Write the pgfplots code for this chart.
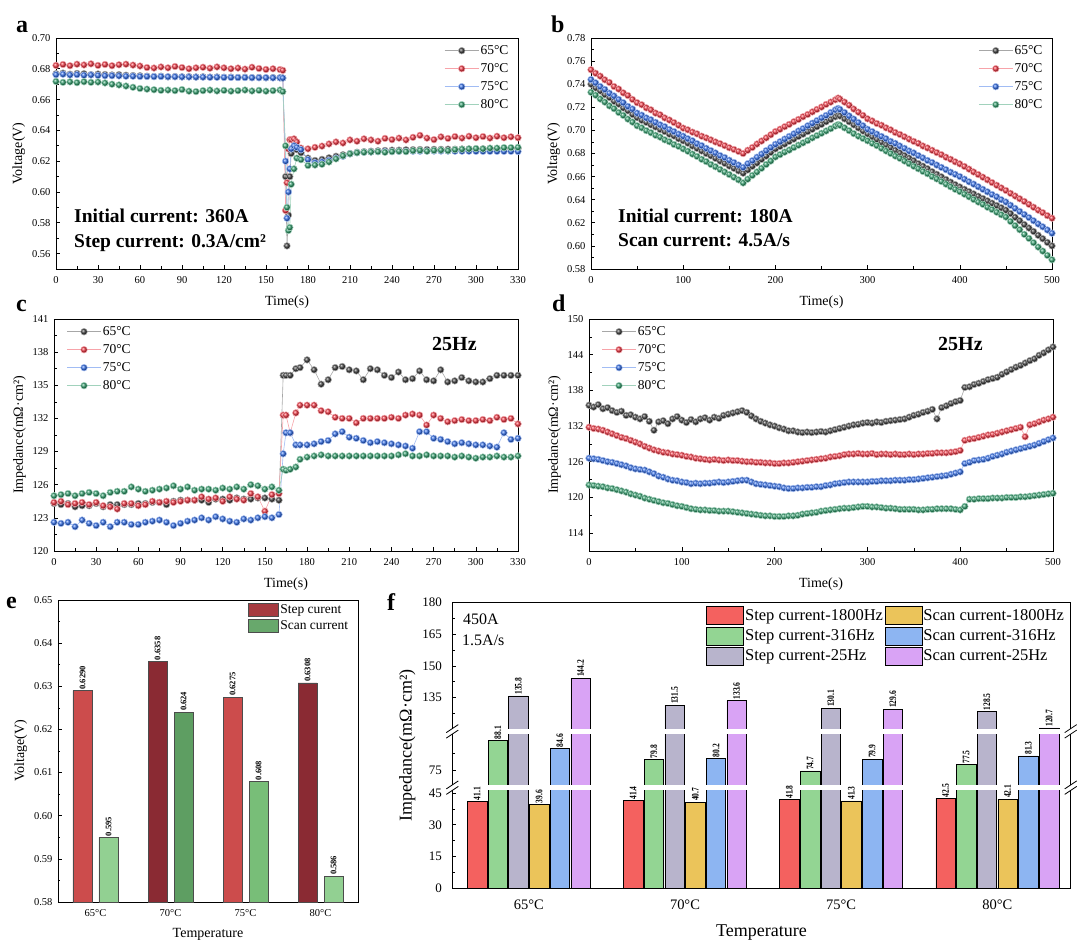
\documentclass[border=0pt]{standalone}
\usepackage{fontspec}
\setmainfont{Liberation Serif}
\usepackage{pgfplots}
\usepackage{pgfplotstable}
\pgfplotsset{compat=1.18}

\definecolor{cK}{HTML}{3C3C3C}
\definecolor{cR}{HTML}{EE3340}
\definecolor{cB}{HTML}{2F6BE6}
\definecolor{cG}{HTML}{2F9C6A}
\definecolor{stepL}{HTML}{CC4C4C}
\definecolor{stepD}{HTML}{8A2A33}
\definecolor{stepM}{HTML}{A63A40}
\definecolor{scanL}{HTML}{92D092}
\definecolor{scanD}{HTML}{5E9E62}
\definecolor{scanM}{HTML}{78BE78}
\definecolor{fR}{HTML}{F4615F}
\definecolor{fG}{HTML}{93D593}
\definecolor{fS}{HTML}{B8B4CC}
\definecolor{fY}{HTML}{EBC45A}
\definecolor{fB}{HTML}{8DB5F2}
\definecolor{fV}{HTML}{D9A3F5}

% panel a: t, 65, 70, 75, 80 degC
\pgfplotstableread{
t k r b g
0 0.6768 0.6822 0.6762 0.6718
5 0.6772 0.6828 0.6765 0.6712
10 0.6765 0.6820 0.6760 0.6715
15 0.6770 0.6830 0.6762 0.6710
20 0.6768 0.6825 0.6758 0.6716
25 0.6762 0.6832 0.6760 0.6712
30 0.6766 0.6822 0.6757 0.6714
35 0.6763 0.6828 0.6755 0.6708
40 0.6760 0.6820 0.6755 0.6700
45 0.6762 0.6826 0.6754 0.6695
50 0.6758 0.6830 0.6752 0.6688
55 0.6756 0.6824 0.6752 0.6680
60 0.6755 0.6818 0.6750 0.6672
65 0.6752 0.6808 0.6750 0.6668
70 0.6750 0.6805 0.6749 0.6664
75 0.6752 0.6812 0.6750 0.6660
80 0.6748 0.6806 0.6748 0.6662
85 0.6750 0.6815 0.6748 0.6658
90 0.6748 0.6808 0.6747 0.6665
95 0.6749 0.6800 0.6747 0.6655
100 0.6747 0.6806 0.6746 0.6652
105 0.6748 0.6810 0.6746 0.6658
110 0.6746 0.6804 0.6745 0.6662
115 0.6747 0.6812 0.6745 0.6656
120 0.6745 0.6806 0.6744 0.6660
125 0.6746 0.6800 0.6744 0.6655
130 0.6744 0.6805 0.6743 0.6658
135 0.6745 0.6798 0.6743 0.6662
140 0.6743 0.6810 0.6742 0.6656
145 0.6744 0.6802 0.6742 0.6660
150 0.6742 0.6796 0.6742 0.6655
155 0.6743 0.6800 0.6741 0.6658
160 0.6742 0.6795 0.6741 0.6662
162 0.6740 0.6790 0.6740 0.6652
164 0.6100 0.5880 0.6200 0.6300
165 0.5650 0.6060 0.5830 0.5900
166 0.5850 0.6280 0.6000 0.5750
167 0.6100 0.6340 0.6150 0.5770
168 0.6250 0.6340 0.6280 0.6050
170 0.6280 0.6345 0.6300 0.6150
172 0.6275 0.6325 0.6290 0.6220
175 0.6255 0.6285 0.6275 0.6210
180 0.6220 0.6280 0.6210 0.6172
185 0.6205 0.6290 0.6190 0.6175
190 0.6212 0.6298 0.6195 0.6180
195 0.6222 0.6312 0.6205 0.6195
200 0.6232 0.6325 0.6220 0.6215
205 0.6242 0.6318 0.6232 0.6235
210 0.6250 0.6338 0.6248 0.6248
215 0.6258 0.6330 0.6255 0.6255
220 0.6262 0.6345 0.6258 0.6258
225 0.6265 0.6338 0.6260 0.6260
230 0.6268 0.6330 0.6262 0.6262
235 0.6270 0.6348 0.6262 0.6258
240 0.6272 0.6340 0.6263 0.6262
245 0.6272 0.6350 0.6264 0.6265
250 0.6274 0.6338 0.6264 0.6262
255 0.6275 0.6355 0.6265 0.6268
260 0.6276 0.6368 0.6265 0.6270
265 0.6276 0.6350 0.6266 0.6265
270 0.6277 0.6340 0.6266 0.6270
275 0.6277 0.6358 0.6266 0.6272
280 0.6278 0.6348 0.6266 0.6268
285 0.6278 0.6360 0.6265 0.6275
290 0.6279 0.6350 0.6265 0.6278
295 0.6279 0.6362 0.6265 0.6280
300 0.6280 0.6352 0.6264 0.6282
305 0.6280 0.6360 0.6264 0.6280
310 0.6280 0.6350 0.6264 0.6285
315 0.6281 0.6362 0.6264 0.6285
320 0.6281 0.6352 0.6264 0.6288
325 0.6281 0.6358 0.6264 0.6288
330 0.6282 0.6352 0.6263 0.6290
}\tabA

% panel b
\pgfplotstableread{
t k r b g
0 0.7400 0.7525 0.7440 0.7330
5 0.7368 0.7495 0.7412 0.7305
10 0.7342 0.7470 0.7380 0.7272
15 0.7310 0.7438 0.7355 0.7245
20 0.7285 0.7415 0.7322 0.7212
25 0.7252 0.7380 0.7298 0.7188
30 0.7228 0.7358 0.7268 0.7155
35 0.7195 0.7325 0.7240 0.7130
40 0.7170 0.7302 0.7208 0.7098
45 0.7138 0.7268 0.7185 0.7072
50 0.7110 0.7240 0.7150 0.7040
55 0.7088 0.7222 0.7132 0.7022
60 0.7070 0.7195 0.7108 0.6998
65 0.7048 0.7178 0.7092 0.6980
70 0.7030 0.7150 0.7070 0.6958
75 0.7008 0.7135 0.7048 0.6942
80 0.6990 0.7108 0.7032 0.6918
85 0.6968 0.7090 0.7008 0.6902
90 0.6952 0.7068 0.6990 0.6878
95 0.6928 0.7045 0.6968 0.6862
100 0.6910 0.7020 0.6950 0.6840
105 0.6890 0.7005 0.6928 0.6820
110 0.6865 0.6985 0.6910 0.6795
115 0.6845 0.6970 0.6885 0.6775
120 0.6822 0.6950 0.6868 0.6750
125 0.6800 0.6935 0.6845 0.6730
130 0.6780 0.6918 0.6825 0.6705
135 0.6758 0.6900 0.6805 0.6685
140 0.6735 0.6885 0.6782 0.6662
145 0.6715 0.6868 0.6765 0.6640
150 0.6692 0.6850 0.6742 0.6618
155 0.6672 0.6835 0.6722 0.6595
160 0.6650 0.6818 0.6700 0.6572
165 0.6630 0.6800 0.6680 0.6545
170 0.6658 0.6828 0.6712 0.6578
175 0.6690 0.6852 0.6738 0.6610
180 0.6718 0.6882 0.6768 0.6640
185 0.6750 0.6908 0.6795 0.6672
190 0.6778 0.6935 0.6825 0.6705
195 0.6810 0.6962 0.6852 0.6735
200 0.6840 0.6990 0.6880 0.6770
205 0.6862 0.7010 0.6902 0.6790
210 0.6882 0.7032 0.6925 0.6812
215 0.6905 0.7052 0.6948 0.6830
220 0.6925 0.7075 0.6970 0.6852
225 0.6948 0.7095 0.6995 0.6872
230 0.6968 0.7118 0.7015 0.6892
235 0.6990 0.7138 0.7040 0.6912
240 0.7010 0.7160 0.7062 0.6935
245 0.7032 0.7182 0.7085 0.6955
250 0.7052 0.7202 0.7108 0.6975
255 0.7075 0.7225 0.7130 0.6995
260 0.7095 0.7245 0.7155 0.7015
265 0.7118 0.7265 0.7178 0.7038
268 0.7130 0.7280 0.7190 0.7050
270 0.7125 0.7272 0.7182 0.7045
275 0.7100 0.7245 0.7155 0.7022
280 0.7075 0.7218 0.7125 0.6998
285 0.7048 0.7185 0.7098 0.6972
290 0.7022 0.7158 0.7068 0.6950
295 0.6995 0.7130 0.7040 0.6930
300 0.6970 0.7100 0.7010 0.6910
305 0.6945 0.7082 0.6990 0.6888
310 0.6922 0.7060 0.6968 0.6868
315 0.6898 0.7045 0.6948 0.6845
320 0.6875 0.7022 0.6928 0.6822
325 0.6852 0.7005 0.6905 0.6800
330 0.6828 0.6982 0.6888 0.6778
335 0.6805 0.6965 0.6865 0.6758
340 0.6782 0.6945 0.6845 0.6735
345 0.6760 0.6925 0.6822 0.6712
350 0.6738 0.6905 0.6805 0.6690
355 0.6712 0.6888 0.6782 0.6668
360 0.6690 0.6865 0.6762 0.6645
365 0.6668 0.6848 0.6740 0.6625
370 0.6642 0.6828 0.6722 0.6600
375 0.6620 0.6808 0.6700 0.6580
380 0.6598 0.6790 0.6680 0.6558
385 0.6575 0.6768 0.6660 0.6535
390 0.6552 0.6750 0.6638 0.6512
395 0.6530 0.6728 0.6620 0.6490
400 0.6510 0.6710 0.6600 0.6470
405 0.6490 0.6688 0.6578 0.6448
410 0.6470 0.6665 0.6555 0.6425
415 0.6450 0.6640 0.6535 0.6402
420 0.6430 0.6618 0.6512 0.6380
425 0.6410 0.6595 0.6490 0.6360
430 0.6390 0.6572 0.6468 0.6335
435 0.6370 0.6548 0.6445 0.6315
440 0.6350 0.6525 0.6425 0.6292
445 0.6330 0.6502 0.6400 0.6270
450 0.6310 0.6480 0.6380 0.6250
455 0.6280 0.6455 0.6352 0.6212
460 0.6248 0.6432 0.6325 0.6175
465 0.6218 0.6408 0.6298 0.6140
470 0.6185 0.6385 0.6272 0.6100
475 0.6155 0.6360 0.6245 0.6065
480 0.6125 0.6335 0.6218 0.6028
485 0.6092 0.6310 0.6190 0.5990
490 0.6062 0.6288 0.6165 0.5955
495 0.6030 0.6262 0.6138 0.5918
500 0.6000 0.6240 0.6110 0.5880
}\tabB

% panel c
\pgfplotstableread{
t k r b g
0 124.3 124.4 122.6 125.0
5 124.2 124.5 122.5 125.1
10 124.3 124.2 122.6 125.2
15 124.0 124.3 122.2 125.0
20 124.1 124.4 122.8 125.2
25 124.1 124.2 122.5 125.3
30 124.3 124.4 122.3 125.2
35 124.0 124.1 122.6 125.0
40 124.2 124.0 122.2 125.3
45 124.2 123.8 122.6 125.4
50 124.2 124.3 122.6 125.4
55 124.2 124.3 122.4 125.8
60 124.3 124.1 122.4 125.6
65 124.3 124.2 122.6 125.4
70 124.4 124.5 122.7 125.5
75 124.4 124.4 122.8 125.6
80 124.2 124.5 122.6 125.7
85 124.5 124.4 122.3 125.9
90 124.6 124.5 122.5 125.6
95 124.6 124.6 122.7 125.8
100 124.6 124.6 122.8 125.5
105 124.6 124.9 123.0 125.6
110 124.4 124.7 122.8 125.6
115 124.7 124.8 123.1 125.5
120 124.7 124.5 122.9 125.7
125 124.6 124.9 122.7 125.6
130 124.8 124.7 122.6 125.8
135 124.7 124.6 122.9 125.6
140 124.7 125.2 122.8 126.0
145 124.8 124.9 123.0 125.9
150 124.8 123.6 123.1 125.6
155 124.7 125.1 123.0 125.8
160 124.6 125.2 123.3 125.5
163 135.9 132.3 128.8 127.4
165 135.9 132.3 130.7 127.3
168 135.9 130.7 130.7 127.4
172 136.5 132.5 129.6 127.6
175 136.6 133.2 129.6 128.3
180 137.3 133.2 129.6 128.5
185 136.4 133.2 129.7 128.6
190 135.1 132.7 129.9 128.7
195 135.5 132.6 130.0 128.6
200 136.6 132.1 130.6 128.6
205 136.7 132.0 130.8 128.6
210 136.4 132.0 130.3 128.6
215 136.3 131.6 130.2 128.6
220 135.5 132.0 130.0 128.6
225 136.5 132.0 129.8 128.6
230 136.4 132.0 129.9 128.6
235 135.9 132.0 129.8 128.6
240 135.7 132.1 129.7 128.6
245 136.2 132.0 129.6 128.7
250 135.5 132.3 129.5 128.8
255 135.6 132.4 129.3 128.6
260 136.3 132.3 130.8 128.6
265 135.5 131.4 130.8 128.7
270 135.4 132.3 130.2 128.6
275 136.4 132.0 130.1 128.6
280 135.3 131.7 129.9 128.6
285 135.4 131.8 129.7 128.5
290 135.7 131.9 129.8 128.6
295 135.4 131.8 129.7 128.5
300 135.3 131.8 129.6 128.4
305 135.3 131.9 129.6 128.5
310 135.6 131.8 129.5 128.5
315 135.9 132.1 129.4 128.6
320 135.9 131.9 130.7 128.5
325 135.9 132.0 130.1 128.5
330 135.9 131.5 130.2 128.6
}\tabC

% panel d
\pgfplotstableread{
t k r b g
0 135.5 131.8 126.6 122.1
5 135.2 131.6 126.5 122.0
10 135.6 131.5 126.4 121.9
15 134.9 131.3 126.2 121.8
20 135.1 131.0 126.0 121.6
25 134.6 130.7 125.9 121.5
30 134.3 130.4 125.7 121.3
35 134.5 130.1 125.5 121.1
40 133.8 129.9 125.3 120.9
45 133.9 129.6 125.0 120.6
50 133.5 129.3 124.8 120.4
55 133.2 129.0 124.7 120.2
60 133.6 128.6 124.6 119.9
65 132.8 128.3 124.3 119.7
70 131.3 128.0 124.0 119.5
75 132.7 127.8 123.6 119.3
80 132.9 127.6 123.4 119.1
85 132.4 127.5 123.1 119.0
90 133.2 127.3 122.9 118.8
95 133.6 127.2 122.8 118.6
100 133.0 127.1 122.6 118.5
105 132.6 126.9 122.5 118.3
110 133.1 126.8 122.3 118.1
115 132.7 126.6 122.4 118.0
120 133.2 126.5 122.3 117.9
125 133.4 126.4 122.4 117.9
130 133.0 126.3 122.4 117.8
135 133.5 126.4 122.5 117.8
140 133.3 126.3 122.6 117.7
145 133.8 126.2 122.5 117.7
150 134.0 126.3 122.6 117.7
155 134.2 126.2 122.7 117.6
160 134.4 126.2 122.8 117.5
165 134.6 126.1 122.9 117.4
170 134.3 126.0 122.9 117.3
175 133.7 126.0 122.6 117.2
180 133.2 125.9 122.3 117.1
185 132.8 125.9 122.2 117.0
190 132.5 125.8 122.1 116.9
195 132.2 125.8 122.0 116.9
200 132.0 125.7 121.9 116.8
205 131.7 125.7 121.8 116.8
210 131.5 125.8 121.6 116.8
215 131.2 125.8 121.5 116.9
220 131.2 125.9 121.5 116.9
225 131.0 126.0 121.6 117.0
230 130.9 126.1 121.6 117.2
235 131.0 126.2 121.7 117.3
240 130.9 126.3 121.7 117.4
245 131.0 126.4 121.8 117.5
250 131.1 126.5 121.8 117.7
255 131.0 126.6 122.0 117.8
260 131.2 126.8 122.1 117.9
265 131.4 126.9 122.3 118.0
270 131.6 127.0 122.4 118.1
275 131.8 127.2 122.5 118.2
280 132.0 127.3 122.6 118.2
285 132.2 127.3 122.6 118.3
290 132.3 127.4 122.6 118.4
295 132.5 127.3 122.6 118.5
300 132.6 127.3 122.6 118.5
305 132.5 127.4 122.7 118.4
310 132.7 127.2 122.7 118.4
315 132.6 127.3 122.8 118.3
320 132.8 127.3 122.8 118.2
325 132.9 127.2 122.8 118.2
330 133.0 127.3 122.9 118.1
335 133.1 127.2 122.9 118.0
340 133.2 127.2 122.9 118.0
345 133.5 127.3 123.0 118.0
350 133.8 127.2 123.0 118.0
355 134.0 127.3 123.1 117.9
360 134.3 127.3 123.2 117.9
365 134.5 127.4 123.3 118.0
370 134.8 127.4 123.4 118.0
375 133.2 127.5 123.5 118.1
380 135.1 127.5 123.6 118.1
385 135.4 127.5 123.7 118.1
390 135.8 127.6 123.9 118.1
395 136.1 127.7 124.1 118.0
400 136.3 127.9 124.3 117.9
405 138.5 129.6 125.7 118.5
410 138.6 129.8 125.9 119.7
415 139.0 129.9 126.2 119.7
420 139.2 130.1 126.3 119.8
425 139.5 130.3 126.4 119.8
430 139.8 130.5 126.6 119.8
435 140.0 130.6 126.9 119.9
440 140.2 130.8 127.1 119.9
445 140.7 131.0 127.3 119.9
450 141.1 131.2 127.6 120.0
455 141.5 131.4 127.8 120.0
460 141.9 131.6 128.0 120.0
465 142.2 131.8 128.2 120.1
470 142.6 130.2 128.4 120.1
475 143.0 132.2 128.6 120.2
480 143.3 132.4 128.8 120.3
485 143.9 132.7 129.1 120.4
490 144.3 133.0 129.4 120.5
495 144.8 133.2 129.7 120.6
500 145.3 133.5 130.0 120.7
}\tabD

\pgfplotsset{
  panel/.style={scale only axis, tick align=inside, tick pos=left,
    axis line style={line width=0.7pt},
    /pgf/number format/assume math mode=true,
    every tick label/.append style={font=\fontsize{10.5}{12}\selectfont},
    label style={font=\fontsize{14}{16}\selectfont},
    xticklabel shift=4pt, yticklabel shift=2pt, xlabel shift=5pt,
    minor tick num=1, major tick length=4pt, minor tick length=2.5pt,
    every tick/.style={line width=0.6pt, black},
    legend cell align=left},
  lineleg/.style={legend image code/.code={\draw[mark repeat=2,mark phase=2,##1] plot coordinates {(0pt,0pt) (17pt,0pt) (34pt,0pt)};}},
  ser/.style={draw=#1!45!white, line width=0.6pt, mark=ball, mark size=3.3pt, mark options={ball color=#1}, lineleg},
  tleg/.style={legend style={draw=none, fill=none, font=\fontsize{13.5}{14}\selectfont, row sep=4.5pt, inner sep=0pt, nodes={inner sep=1.5pt}}},
  eleg/.style={legend image code/.code={\draw[##1] (0pt,-6.5pt) rectangle (30pt,6.5pt);}},
  fleg/.style={legend image code/.code={\draw[##1] (0pt,-9pt) rectangle (37pt,9pt);}},
  ebar/.style={ybar, bar width=19pt, bar shift=#1, draw=black!70, line width=0.4pt, point meta=explicit symbolic,
    nodes near coords={\rotatebox{90}{\pgfplotspointmeta}},
    every node near coord/.append style={xshift=#1, anchor=south, font=\bfseries\fontsize{8.5}{9}\selectfont, inner sep=1pt, black}},
  fbar/.style={ybar, bar width=19.5pt, bar shift=#1, draw=black, line width=0.6pt},
  flab/.style={draw=none, mark=none, forget plot, point meta=explicit symbolic,
    nodes near coords={\rotatebox{90}{\scalebox{0.75}[1]{\pgfplotspointmeta}}},
    every node near coord/.append style={xshift=#1, anchor=south, font=\bfseries\fontsize{10}{10}\selectfont, inner sep=1pt, black}},
}

\begin{document}
\begin{tikzpicture}[x=1pt,y=1pt]
\path[use as bounding box] (0,0) rectangle (1080,-944);

% ---------- a ----------
\begin{axis}[panel, tleg, at={(56pt,-38pt)}, anchor=north west, width=462pt, height=231pt,
  xmin=0, xmax=330, ymin=0.55, ymax=0.70,
  xtick={0,30,60,90,120,150,180,210,240,270,300,330},
  ytick={0.56,0.58,0.60,0.62,0.64,0.66,0.68,0.70},
  yticklabel style={/pgf/number format/fixed, /pgf/number format/fixed zerofill, /pgf/number format/precision=2},
  xlabel={Time(s)}, ylabel={Voltage(V)},
  legend style={at={(0.983,0.975)}, anchor=north east}]
\addplot[ser=cK] table[x=t,y=k]{\tabA}; \addlegendentry{65°C}
\addplot[ser=cR] table[x=t,y=r]{\tabA}; \addlegendentry{70°C}
\addplot[ser=cB] table[x=t,y=b]{\tabA}; \addlegendentry{75°C}
\addplot[ser=cG] table[x=t,y=g]{\tabA}; \addlegendentry{80°C}
\end{axis}

% ---------- b ----------
\begin{axis}[panel, tleg, at={(591pt,-38pt)}, anchor=north west, width=461pt, height=231pt,
  xmin=0, xmax=500, ymin=0.58, ymax=0.78,
  xtick={0,100,200,300,400,500},
  ytick={0.58,0.60,0.62,0.64,0.66,0.68,0.70,0.72,0.74,0.76,0.78},
  yticklabel style={/pgf/number format/fixed, /pgf/number format/fixed zerofill, /pgf/number format/precision=2},
  xlabel={Time(s)}, ylabel={Voltage(V)},
  legend style={at={(0.983,0.975)}, anchor=north east}]
\addplot[ser=cK] table[x=t,y=k]{\tabB}; \addlegendentry{65°C}
\addplot[ser=cR] table[x=t,y=r]{\tabB}; \addlegendentry{70°C}
\addplot[ser=cB] table[x=t,y=b]{\tabB}; \addlegendentry{75°C}
\addplot[ser=cG] table[x=t,y=g]{\tabB}; \addlegendentry{80°C}
\end{axis}

% ---------- c ----------
\begin{axis}[panel, tleg, at={(54pt,-319pt)}, anchor=north west, width=464pt, height=232pt,
  xmin=0, xmax=330, ymin=120, ymax=141,
  xtick={0,30,60,90,120,150,180,210,240,270,300,330},
  ytick={120,123,126,129,132,135,138,141},
  xlabel={Time(s)}, ylabel={Impedance(mΩ·cm²)},
  legend style={at={(0.027,0.975)}, anchor=north west}]
\addplot[ser=cK] table[x=t,y=k]{\tabC}; \addlegendentry{65°C}
\addplot[ser=cR] table[x=t,y=r]{\tabC}; \addlegendentry{70°C}
\addplot[ser=cB] table[x=t,y=b]{\tabC}; \addlegendentry{75°C}
\addplot[ser=cG] table[x=t,y=g]{\tabC}; \addlegendentry{80°C}
\end{axis}

% ---------- d ----------
\begin{axis}[panel, tleg, at={(589pt,-319pt)}, anchor=north west, width=464pt, height=232pt,
  xmin=0, xmax=500, ymin=111, ymax=150,
  xtick={0,100,200,300,400,500},
  ytick={114,120,126,132,138,144,150},
  xlabel={Time(s)}, ylabel={Impedance(mΩ·cm²)},
  legend style={at={(0.027,0.975)}, anchor=north west}]
\addplot[ser=cK] table[x=t,y=k]{\tabD}; \addlegendentry{65°C}
\addplot[ser=cR] table[x=t,y=r]{\tabD}; \addlegendentry{70°C}
\addplot[ser=cB] table[x=t,y=b]{\tabD}; \addlegendentry{75°C}
\addplot[ser=cG] table[x=t,y=g]{\tabD}; \addlegendentry{80°C}
\end{axis}

% ---------- e ----------
\begin{axis}[panel, at={(58pt,-600pt)}, anchor=north west, width=300pt, height=302pt,
  xmin=-0.5, xmax=3.5, ymin=0.58, ymax=0.65,
  xtick={0,1,2,3}, xticklabels={65°C,70°C,75°C,80°C}, minor x tick num=0,
  major x tick style={draw=none},
  ytick={0.58,0.59,0.60,0.61,0.62,0.63,0.64,0.65},
  yticklabel style={/pgf/number format/fixed, /pgf/number format/fixed zerofill, /pgf/number format/precision=2},
  xlabel={Temperature}, ylabel={Voltage(V)},
  legend style={at={(0.973,0.99)}, anchor=north east, draw=none, fill=none, font=\fontsize{13.5}{14}\selectfont, row sep=2pt, inner sep=0pt, nodes={inner sep=1.5pt}}]
\addlegendimage{eleg, fill=stepM, draw=black!70}
\addlegendentry{Step curent}
\addlegendimage{eleg, fill=scanD!80!scanL, draw=black!70}
\addlegendentry{Scan current}
\addplot[ebar=-13pt, fill=stepL, forget plot] coordinates {(0,0.6290)[0.6290] (2,0.6275)[0.6275]};
\addplot[ebar=-13pt, fill=stepD, forget plot] coordinates {(1,0.6358)[0.6358] (3,0.6308)[0.6308]};
\addplot[ebar=13pt, fill=scanL, forget plot] coordinates {(0,0.595)[0.595] (3,0.586)[0.586]};
\addplot[ebar=13pt, fill=scanD, forget plot] coordinates {(1,0.624)[0.624]};
\addplot[ebar=13pt, fill=scanM, forget plot] coordinates {(2,0.608)[0.608]};
\end{axis}

% ---------- f ----------
\begin{axis}[panel, at={(452.3pt,-602.3pt)}, anchor=north west, width=618.4pt, height=286pt,
  xmin=-0.49, xmax=3.47, ymin=0, ymax=135,
  y filter/.expression={y<=48 ? y : (y<=100 ? 55.7+1.08*(y-75) : y-45)},
  ytick={0,15,30,45,55.7,90,105,120,135}, yticklabels={0,15,30,45,75,135,150,165,180},
  minor y tick num=0, minor x tick num=0,
  minor ytick={7.5,22.5,37.5,63.8,82.5,97.5,112.5,127.5},
  xtick={0,1,2,3}, xticklabels={65°C,70°C,75°C,80°C},
  major x tick style={draw=none},
  every tick label/.append style={font=\fontsize{13}{14}\selectfont},
  xticklabel style={font=\fontsize{14.5}{15}\selectfont},
  xticklabel shift=8pt, yticklabel shift=7pt, xlabel shift=8pt,
  label style={font=\fontsize{18}{20}\selectfont},
  xlabel={Temperature}, ylabel={Impedance(mΩ·cm²)},
  legend columns=2,
  legend style={at={(0.992,0.987)}, anchor=north east, draw=none, fill=none, font=\fontsize{16.5}{17}\selectfont, row sep=2pt, inner sep=0pt, nodes={inner sep=1.5pt}}]
\addlegendimage{fleg, fill=fR, draw=black}
\addlegendentry{Step current-1800Hz}
\addlegendimage{fleg, fill=fY, draw=black}
\addlegendentry{Scan current-1800Hz}
\addlegendimage{fleg, fill=fG, draw=black}
\addlegendentry{Step current-316Hz}
\addlegendimage{fleg, fill=fB, draw=black}
\addlegendentry{Scan current-316Hz}
\addlegendimage{fleg, fill=fS, draw=black}
\addlegendentry{Step current-25Hz}
\addlegendimage{fleg, fill=fV, draw=black}
\addlegendentry{Scan current-25Hz}
\addplot[fbar=-51.75pt, fill=fR, forget plot] coordinates {(0,41.1) (1,41.4) (2,41.8) (3,42.5)};
\addplot[fbar=-31.05pt, fill=fG, forget plot] coordinates {(0,88.1) (1,79.8) (2,74.7) (3,77.5)};
\addplot[fbar=-10.35pt, fill=fS, forget plot] coordinates {(0,135.8) (1,131.5) (2,130.1) (3,128.5)};
\addplot[fbar=10.35pt, fill=fY, forget plot] coordinates {(0,39.6) (1,40.7) (2,41.3) (3,42.1)};
\addplot[fbar=31.05pt, fill=fB, forget plot] coordinates {(0,84.6) (1,80.2) (2,79.9) (3,81.3)};
\addplot[fbar=51.75pt, fill=fV, forget plot] coordinates {(0,144.2) (1,133.6) (2,129.6) (3,120.7)};
% white break bands across the bars
\fill[white] (rel axis cs:0,0.3422) rectangle (rel axis cs:1,0.3615);
\fill[white] (rel axis cs:0,0.5393) rectangle (rel axis cs:1,0.5585);
% value labels, drawn above the bands
\addplot[flab=-51.75pt] coordinates {(0,41.1)[41.1] (1,41.4)[41.4] (2,41.8)[41.8] (3,42.5)[42.5]};
\addplot[flab=-31.05pt] coordinates {(0,88.1)[88.1] (1,79.8)[79.8] (2,74.7)[74.7] (3,77.5)[77.5]};
\addplot[flab=-10.35pt] coordinates {(0,135.8)[135.8] (1,131.5)[131.5] (2,130.1)[130.1] (3,128.5)[128.5]};
\addplot[flab=10.35pt] coordinates {(0,39.6)[39.6] (1,40.7)[40.7] (2,41.3)[41.3] (3,42.1)[42.1]};
\addplot[flab=31.05pt] coordinates {(0,84.6)[84.6] (1,80.2)[80.2] (2,79.9)[79.9] (3,81.3)[81.3]};
\addplot[flab=51.75pt] coordinates {(0,144.2)[144.2] (1,133.6)[133.6] (2,129.6)[129.6] (3,120.7)[120.7]};
\end{axis}

% axis breaks in f (gaps in the axis lines and break marks)
\foreach \xx in {452.3,1070.7}{
  \fill[white] (\xx-3,-790.4) rectangle (\xx+3,-784.9);
  \fill[white] (\xx-3,-734.1) rectangle (\xx+3,-728.6);
  \draw[line width=0.8pt] (\xx-6,-794.4) -- (\xx+6,-786.4);
  \draw[line width=0.8pt] (\xx-6,-788.9) -- (\xx+6,-780.9);
  \draw[line width=0.8pt] (\xx-6,-738.1) -- (\xx+6,-730.1);
  \draw[line width=0.8pt] (\xx-6,-732.6) -- (\xx+6,-724.6);
}

% annotations
\node[anchor=base west, font=\bfseries\fontsize{24}{24}\selectfont, inner sep=0pt] at (16,-33) {a};
\node[anchor=base west, font=\bfseries\fontsize{24}{24}\selectfont, inner sep=0pt] at (551,-33) {b};
\node[anchor=base west, font=\bfseries\fontsize{24}{24}\selectfont, inner sep=0pt] at (16,-312) {c};
\node[anchor=base west, font=\bfseries\fontsize{24}{24}\selectfont, inner sep=0pt] at (552,-312) {d};
\node[anchor=base west, font=\bfseries\fontsize{24}{24}\selectfont, inner sep=0pt] at (6,-608) {e};
\node[anchor=base west, font=\bfseries\fontsize{24}{24}\selectfont, inner sep=0pt] at (387,-610) {f};

\node[anchor=base west, font=\bfseries\fontsize{19.5}{20}\selectfont, inner sep=0pt] at (74,-222.5) {Initial current: 360A};
\node[anchor=base west, font=\bfseries\fontsize{19.5}{20}\selectfont, inner sep=0pt] at (74,-247.5) {Step current: 0.3A/cm²};
\node[anchor=base west, font=\bfseries\fontsize{19.5}{20}\selectfont, inner sep=0pt] at (618,-222.5) {Initial current: 180A};
\node[anchor=base west, font=\bfseries\fontsize{19.5}{20}\selectfont, inner sep=0pt] at (618,-247) {Scan current: 4.5A/s};
\node[anchor=base west, font=\bfseries\fontsize{20}{20}\selectfont, inner sep=0pt] at (432,-350) {25Hz};
\node[anchor=base west, font=\bfseries\fontsize{20}{20}\selectfont, inner sep=0pt] at (938,-350) {25Hz};
\node[anchor=base west, font=\fontsize{16}{16}\selectfont, inner sep=0pt] at (463,-624.3) {450A};
\node[anchor=base west, font=\fontsize{16}{16}\selectfont, inner sep=0pt] at (462,-645) {1.5A/s};
\end{tikzpicture}
\end{document}
